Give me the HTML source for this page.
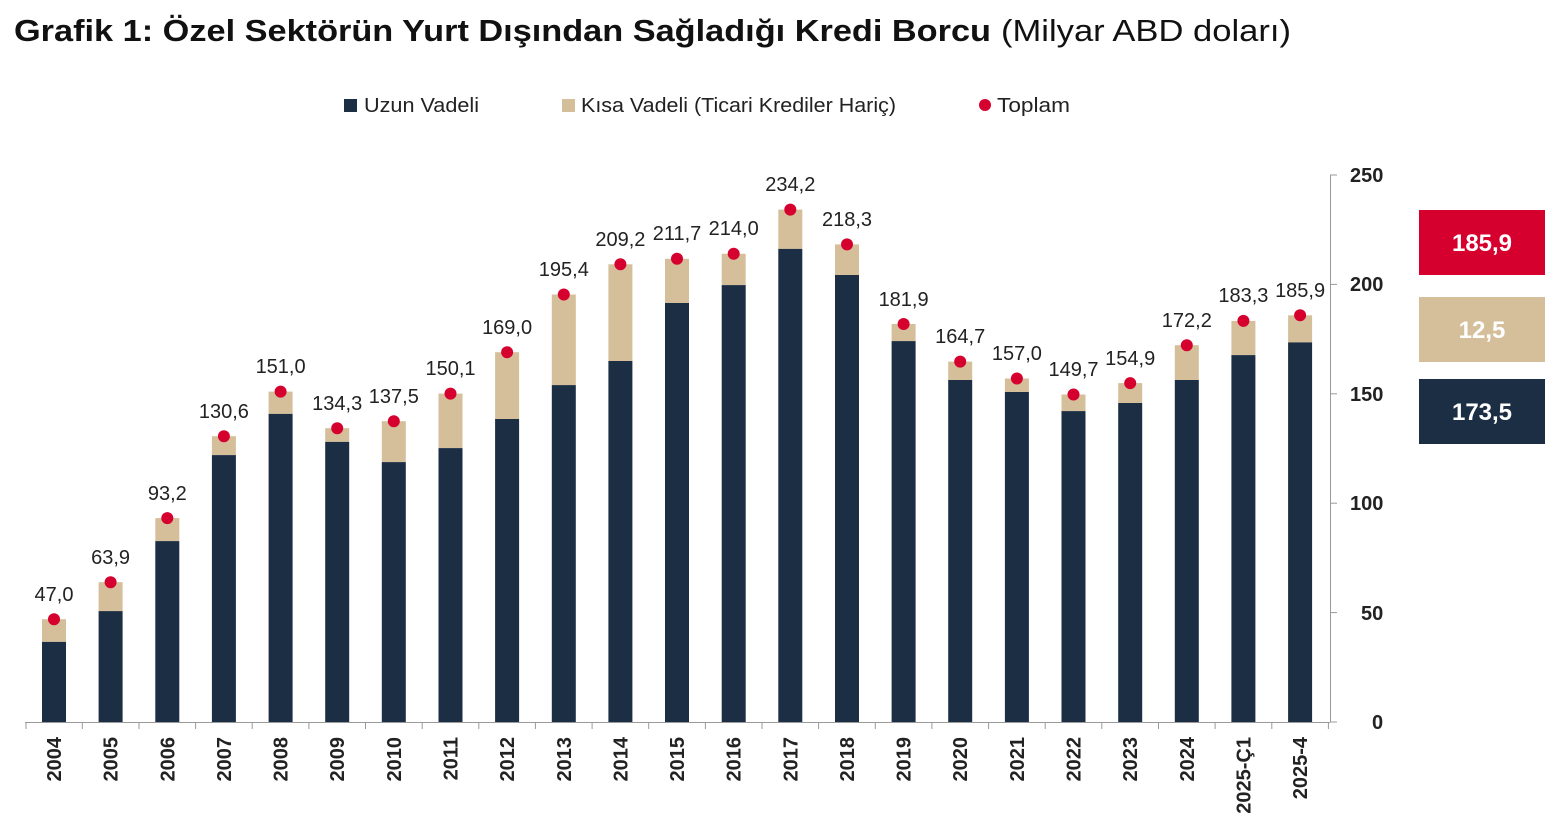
<!DOCTYPE html>
<html><head><meta charset="utf-8"><style>
body{margin:0;background:#fff;}
svg{display:block;font-family:"Liberation Sans",sans-serif;}
</style></head><body>
<svg width="1562" height="834" viewBox="0 0 1562 834" xmlns="http://www.w3.org/2000/svg">
<text x="14" y="41" font-size="31" font-weight="bold" fill="#111" textLength="977" lengthAdjust="spacingAndGlyphs">Grafik 1: Özel Sektörün Yurt Dışından Sağladığı Kredi Borcu</text>
<text x="1001" y="41" font-size="31" fill="#111" textLength="290" lengthAdjust="spacingAndGlyphs">(Milyar ABD doları)</text>
<!-- legend -->
<rect x="344" y="99" width="13" height="13" fill="#1c2e44"/>
<text x="364" y="112" font-size="20" fill="#222" textLength="115" lengthAdjust="spacingAndGlyphs">Uzun Vadeli</text>
<rect x="562" y="99" width="13" height="13" fill="#d4bf9a"/>
<text x="581" y="112" font-size="20" fill="#222" textLength="315" lengthAdjust="spacingAndGlyphs">Kısa Vadeli (Ticari Krediler Hariç)</text>
<circle cx="985" cy="105" r="6" fill="#d6002f"/>
<text x="997" y="112" font-size="20" fill="#222" textLength="73" lengthAdjust="spacingAndGlyphs">Toplam</text>
<!-- axes -->
<line x1="25" y1="722.5" x2="1330" y2="722.5" stroke="#999" stroke-width="1"/>
<line x1="1330.5" y1="175" x2="1330.5" y2="722" stroke="#999" stroke-width="1"/>
<g stroke="#999">
<line x1="1330" y1="175" x2="1337" y2="175"/><line x1="1330" y1="284.4" x2="1337" y2="284.4"/><line x1="1330" y1="393.8" x2="1337" y2="393.8"/><line x1="1330" y1="503.2" x2="1337" y2="503.2"/><line x1="1330" y1="612.6" x2="1337" y2="612.6"/><line x1="1330" y1="722" x2="1337" y2="722"/>
<line x1="26" y1="722" x2="26" y2="729"/><line x1="82.3" y1="722" x2="82.3" y2="729"/><line x1="139" y1="722" x2="139" y2="729"/><line x1="195.6" y1="722" x2="195.6" y2="729"/><line x1="252.2" y1="722" x2="252.2" y2="729"/><line x1="308.9" y1="722" x2="308.9" y2="729"/><line x1="365.5" y1="722" x2="365.5" y2="729"/><line x1="422.2" y1="722" x2="422.2" y2="729"/><line x1="478.8" y1="722" x2="478.8" y2="729"/><line x1="535.4" y1="722" x2="535.4" y2="729"/><line x1="592.1" y1="722" x2="592.1" y2="729"/><line x1="648.7" y1="722" x2="648.7" y2="729"/><line x1="705.4" y1="722" x2="705.4" y2="729"/><line x1="762" y1="722" x2="762" y2="729"/><line x1="818.6" y1="722" x2="818.6" y2="729"/><line x1="875.3" y1="722" x2="875.3" y2="729"/><line x1="931.9" y1="722" x2="931.9" y2="729"/><line x1="988.6" y1="722" x2="988.6" y2="729"/><line x1="1045.2" y1="722" x2="1045.2" y2="729"/><line x1="1101.8" y1="722" x2="1101.8" y2="729"/><line x1="1158.5" y1="722" x2="1158.5" y2="729"/><line x1="1215.1" y1="722" x2="1215.1" y2="729"/><line x1="1271.8" y1="722" x2="1271.8" y2="729"/><line x1="1328.4" y1="722" x2="1328.4" y2="729"/>
</g>
<g font-size="20" font-weight="bold" fill="#222">
<text x="1350" y="182">250</text><text x="1350" y="291">200</text><text x="1350" y="401">150</text><text x="1350" y="510">100</text><text x="1361" y="620">50</text><text x="1372" y="729">0</text>
</g>
<!-- bars -->
<g fill="#d4bf9a">
<rect x="42" y="619.2" width="24" height="22.7"/><rect x="98.6" y="582.2" width="24" height="28.9"/><rect x="155.3" y="518.1" width="24" height="23"/><rect x="211.9" y="436.2" width="24" height="18.9"/><rect x="268.6" y="391.6" width="24" height="22.3"/><rect x="325.2" y="428.2" width="24" height="13.7"/><rect x="381.8" y="421.2" width="24" height="40.9"/><rect x="438.5" y="393.6" width="24" height="54.5"/><rect x="495.1" y="352.2" width="24" height="66.8"/><rect x="551.8" y="294.5" width="24" height="90.6"/><rect x="608.4" y="264.3" width="24" height="96.7"/><rect x="665" y="258.8" width="24" height="44.2"/><rect x="721.7" y="253.8" width="24" height="31.3"/><rect x="778.3" y="209.6" width="24" height="39.3"/><rect x="835" y="244.4" width="24" height="30.6"/><rect x="891.6" y="324" width="24" height="17.1"/><rect x="948.2" y="361.6" width="24" height="18.4"/><rect x="1004.9" y="378.5" width="24" height="13.5"/><rect x="1061.5" y="394.5" width="24" height="16.6"/><rect x="1118.2" y="383.1" width="24" height="19.9"/><rect x="1174.8" y="345.2" width="24" height="34.8"/><rect x="1231.4" y="320.9" width="24" height="34.2"/><rect x="1288.1" y="315.3" width="24" height="27.1"/>
</g>
<g fill="#1c2e44">
<rect x="42" y="641.9" width="24" height="80.1"/><rect x="98.6" y="611.1" width="24" height="110.9"/><rect x="155.3" y="541.1" width="24" height="180.9"/><rect x="211.9" y="455.1" width="24" height="266.9"/><rect x="268.6" y="413.9" width="24" height="308.1"/><rect x="325.2" y="441.9" width="24" height="280.1"/><rect x="381.8" y="462.1" width="24" height="259.9"/><rect x="438.5" y="448.1" width="24" height="273.9"/><rect x="495.1" y="419" width="24" height="303"/><rect x="551.8" y="385.1" width="24" height="336.9"/><rect x="608.4" y="361" width="24" height="361"/><rect x="665" y="303" width="24" height="419"/><rect x="721.7" y="285.1" width="24" height="436.9"/><rect x="778.3" y="248.9" width="24" height="473.1"/><rect x="835" y="275" width="24" height="447"/><rect x="891.6" y="341.1" width="24" height="380.9"/><rect x="948.2" y="380" width="24" height="342"/><rect x="1004.9" y="392" width="24" height="330"/><rect x="1061.5" y="411.1" width="24" height="310.9"/><rect x="1118.2" y="403" width="24" height="319"/><rect x="1174.8" y="380" width="24" height="342"/><rect x="1231.4" y="355.1" width="24" height="366.9"/><rect x="1288.1" y="342.4" width="24" height="379.6"/>
</g>
<g fill="#d6002f">
<circle cx="54" cy="619.2" r="6"/><circle cx="110.6" cy="582.2" r="6"/><circle cx="167.3" cy="518.1" r="6"/><circle cx="223.9" cy="436.2" r="6"/><circle cx="280.6" cy="391.6" r="6"/><circle cx="337.2" cy="428.2" r="6"/><circle cx="393.8" cy="421.2" r="6"/><circle cx="450.5" cy="393.6" r="6"/><circle cx="507.1" cy="352.2" r="6"/><circle cx="563.8" cy="294.5" r="6"/><circle cx="620.4" cy="264.3" r="6"/><circle cx="677" cy="258.8" r="6"/><circle cx="733.7" cy="253.8" r="6"/><circle cx="790.3" cy="209.6" r="6"/><circle cx="847" cy="244.4" r="6"/><circle cx="903.6" cy="324" r="6"/><circle cx="960.2" cy="361.6" r="6"/><circle cx="1016.9" cy="378.5" r="6"/><circle cx="1073.5" cy="394.5" r="6"/><circle cx="1130.2" cy="383.1" r="6"/><circle cx="1186.8" cy="345.2" r="6"/><circle cx="1243.4" cy="320.9" r="6"/><circle cx="1300.1" cy="315.3" r="6"/>
</g>
<g font-size="20" fill="#222" text-anchor="middle">
<text x="54" y="601">47,0</text><text x="110.6" y="564">63,9</text><text x="167.3" y="500">93,2</text><text x="223.9" y="418">130,6</text><text x="280.6" y="373">151,0</text><text x="337.2" y="410">134,3</text><text x="393.8" y="403">137,5</text><text x="450.5" y="375">150,1</text><text x="507.1" y="334">169,0</text><text x="563.8" y="276">195,4</text><text x="620.4" y="246">209,2</text><text x="677" y="240">211,7</text><text x="733.7" y="235">214,0</text><text x="790.3" y="191">234,2</text><text x="847" y="226">218,3</text><text x="903.6" y="306">181,9</text><text x="960.2" y="343">164,7</text><text x="1016.9" y="360">157,0</text><text x="1073.5" y="376">149,7</text><text x="1130.2" y="365">154,9</text><text x="1186.8" y="327">172,2</text><text x="1243.4" y="302">183,3</text><text x="1300.1" y="297">185,9</text>
</g>
<g font-size="20" font-weight="bold" fill="#222" text-anchor="end">
<text transform="translate(61,737) rotate(-90)">2004</text><text transform="translate(117.6,737) rotate(-90)">2005</text><text transform="translate(174.3,737) rotate(-90)">2006</text><text transform="translate(230.9,737) rotate(-90)">2007</text><text transform="translate(287.6,737) rotate(-90)">2008</text><text transform="translate(344.2,737) rotate(-90)">2009</text><text transform="translate(400.8,737) rotate(-90)">2010</text><text transform="translate(457.5,737) rotate(-90)">2011</text><text transform="translate(514.1,737) rotate(-90)">2012</text><text transform="translate(570.8,737) rotate(-90)">2013</text><text transform="translate(627.4,737) rotate(-90)">2014</text><text transform="translate(684,737) rotate(-90)">2015</text><text transform="translate(740.7,737) rotate(-90)">2016</text><text transform="translate(797.3,737) rotate(-90)">2017</text><text transform="translate(854,737) rotate(-90)">2018</text><text transform="translate(910.6,737) rotate(-90)">2019</text><text transform="translate(967.2,737) rotate(-90)">2020</text><text transform="translate(1023.9,737) rotate(-90)">2021</text><text transform="translate(1080.5,737) rotate(-90)">2022</text><text transform="translate(1137.2,737) rotate(-90)">2023</text><text transform="translate(1193.8,737) rotate(-90)">2024</text><text transform="translate(1250.4,737) rotate(-90)">2025-Ç1</text><text transform="translate(1307.1,737) rotate(-90)">2025-4</text>
</g>
<!-- right boxes -->
<rect x="1419" y="210" width="126" height="65" fill="#d6002f"/>
<rect x="1419" y="297" width="126" height="65" fill="#d4bf9a"/>
<rect x="1419" y="379" width="126" height="65" fill="#1c2e44"/>
<g font-size="24" font-weight="bold" fill="#fff" text-anchor="middle">
<text x="1482" y="251">185,9</text><text x="1482" y="338">12,5</text><text x="1482" y="420">173,5</text>
</g>
</svg>
</body></html>
